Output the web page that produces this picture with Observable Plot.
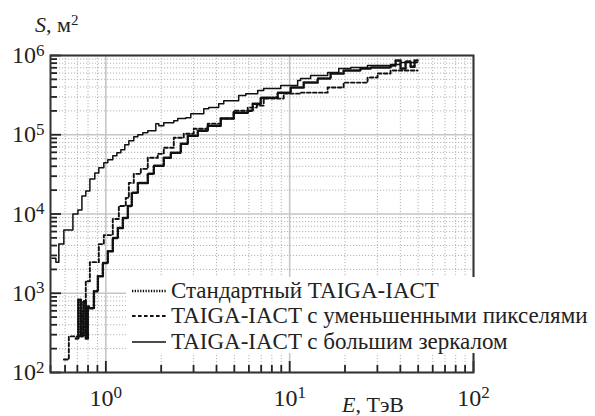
<!DOCTYPE html>
<html><head><meta charset="utf-8">
<script src="https://cdn.jsdelivr.net/npm/d3@7"></script>
<script src="https://cdn.jsdelivr.net/npm/@observablehq/plot@0.6"></script>
<style>
body{margin:0;background:#fff;}
#wrap{width:595px;height:416px;}
#wrap svg text, #wrap svg tspan{font-family:"Liberation Serif", serif !important;}
</style></head><body><div id="wrap"></div>
<script>
// ---- data (E in TeV, S in m^2; step-after histograms) ----
const seriesNames = ["Стандартный TAIGA-IACT", "TAIGA-IACT с уменьшенными пикселями", "TAIGA-IACT с большим зеркалом"];

const standardE = [0.687,0.708,0.731,0.755,0.778,0.798,0.808,0.861,0.905,0.963,1.025,1.091,1.162,1.237,1.317,1.384,1.493,1.691,1.823,2.066,2.256,2.556,2.791,3.162,3.584,4.217,4.963,5.913,6.294,6.958,8.607,10.13,11.92,14.20,16.70,19.66,24.32,27.55,35.39,37.7,40.1,42.7,45.5,47.8,49.63];
const standardS = [269,830,286,793,269,680,646,1060,1640,2400,3400,4970,6650,8890,12600,18500,24700,32100,40600,51200,59200,76900,97100,112000,130000,160000,190000,201000,247000,294000,340000,394000,455000,512000,592000,646000,684000,704000,747000,865000,684000,840000,720000,865000,865000];

const reducedE = [0.591,0.629,0.741,0.778,0.819,0.916,0.975,1.091,1.177,1.284,1.334,1.419,1.550,1.691,1.917,2.066,2.342,2.654,3.008,3.584,4.217,4.963,5.913,6.618,7.223,9.278,11.47,16.09,19.66,26.54,30.08,35.39,49.63];
const reducedS = [146,286,592,1420,2470,4170,5420,8650,12600,15970,24700,32100,37100,51200,57400,68400,91600,103000,119000,138000,160000,201000,220000,233000,286000,330000,340000,394000,455000,527000,592000,646000,646000];

const mirrorE = [0.509,0.535,0.555,0.591,0.662,0.705,0.741,0.778,0.819,0.871,0.916,0.975,1.025,1.091,1.148,1.207,1.268,1.334,1.419,1.493,1.589,1.691,1.870,1.941,2.066,2.341,2.461,2.723,2.898,3.41,3.63,4.11,4.38,5.28,5.77,6.70,7.22,8.94,11.05,11.47,13.0,16.1,18.5,21.5,26.5,35.4,40.1,49.6];
const mirrorS = [2770,2470,4170,6270,10000,11240,16900,19550,27700,33000,38200,44200,48300,54200,59200,64600,74700,83900,94400,100000,106000,112000,138000,130000,142000,150000,160000,164000,184000,213000,220000,247000,269000,312000,330000,361000,382000,417000,483000,512000,558000,609000,684000,704000,747000,769000,815000,815000];

const xMajorTicks = [1, 10, 100];
const xMinorTicks = [0.5,0.6,0.7,0.8,0.9,2,3,4,5,6,7,8,9,20,30,40,50,60,70,80,90];
const yMajorTicks = [1e2, 1e3, 1e4, 1e5, 1e6];
const yMinorTicks = [2e2,3e2,4e2,5e2,6e2,7e2,8e2,9e2,2e3,3e3,4e3,5e3,6e3,7e3,8e3,9e3,2e4,3e4,4e4,5e4,6e4,7e4,8e4,9e4,2e5,3e5,4e5,5e5,6e5,7e5,8e5,9e5];

const xLabel = ["E", ", ТэВ"];
const yLabel = ["S", ", м", "2"];

// ---- build tables ----
const toRows = (E, S) => E.map((e, i) => ({E: e, S: S[i]}));
const standard = toRows(standardE, standardS);
const reduced = toRows(reducedE, reducedS);
const mirror = toRows(mirrorE, mirrorS);

const W = 595, H = 416, mL = 50, mR = 122, mT = 55, mB = 44;
const innerW = W - mL - mR, innerH = H - mT - mB;
const FONT = "Liberation Serif";

const styles = {
  standard: {stroke: "#111", strokeWidth: 2.5, strokeDasharray: "1.3,1.4"},
  reduced: {stroke: "#111", strokeWidth: 1.9, strokeDasharray: "3.6,2.4"},
  mirror: {stroke: "#111", strokeWidth: 1.5}
};

const chart = Plot.plot({
  width: W, height: H,
  marginLeft: mL, marginRight: mR, marginTop: mT, marginBottom: mB,
  x: {type: "log", domain: [0.5, 100]},
  y: {type: "log", domain: [100, 1e6]},
  style: {fontFamily: FONT, fontSize: "24px", color: "#222", background: "#fff", overflow: "visible"},
  marks: [
    Plot.gridX(xMinorTicks, {stroke: "#b5b5b5", strokeOpacity: 1, strokeWidth: 1, strokeDasharray: "1.2,1.8"}),
    Plot.gridY(yMinorTicks, {stroke: "#b5b5b5", strokeOpacity: 1, strokeWidth: 1, strokeDasharray: "1.2,1.8"}),
    Plot.gridX(xMajorTicks, {stroke: "#c6c6c6", strokeOpacity: 1, strokeWidth: 1.6}),
    Plot.gridY(yMajorTicks, {stroke: "#c6c6c6", strokeOpacity: 1, strokeWidth: 1.6}),
    Plot.line(standard, {x: "E", y: "S", curve: "step-after", ...styles.standard}),
    Plot.line(reduced, {x: "E", y: "S", curve: "step-after", ...styles.reduced}),
    Plot.line(mirror, {x: "E", y: "S", curve: "step-after", ...styles.mirror}),
    Plot.tickX(xMinorTicks, {x: d => d, insetTop: innerH - 7, stroke: "#222", strokeWidth: 1.8}),
    Plot.tickX(xMajorTicks, {x: d => d, insetTop: innerH - 11, stroke: "#222", strokeWidth: 1.8}),
    Plot.tickY(yMinorTicks, {y: d => d, insetRight: innerW - 7, stroke: "#222", strokeWidth: 1.8}),
    Plot.tickY(yMajorTicks, {y: d => d, insetRight: innerW - 11, stroke: "#222", strokeWidth: 1.8}),
    Plot.frame({stroke: "#333", strokeWidth: 2}),
    Plot.axisY(yMajorTicks, {tickSize: 0, tickPadding: 6, label: null, tickFormat: d => "10^" + Math.round(Math.log10(d)), fontSize: 24}),
    Plot.axisX(xMajorTicks, {tickSize: 0, tickPadding: 16, label: null, tickFormat: d => "10^" + Math.round(Math.log10(d)), fontSize: 24})
  ]
});

document.getElementById("wrap").appendChild(chart);
const svg = d3.select(chart);

// superscript exponents in tick labels
svg.selectAll("text").each(function() {
  const t = d3.select(this);
  const target = t.select("tspan").empty() ? t : t.select("tspan");
  const s = target.text();
  if (/^10\^/.test(s)) {
    const exp = s.split("^")[1];
    target.text("10");
    target.append("tspan").attr("dy", "-0.45em").style("font-size", "17px").text(exp);
  }
});

function addText(x, y, size) {
  return svg.append("text").attr("x", x).attr("y", y)
    .style("text-anchor", "start")
    .style("font-size", size + "px").style("fill", "#222");
}

// axis titles
const yt = addText(35, 32, 22);
yt.append("tspan").style("font-style", "italic").text(yLabel[0]);
yt.append("tspan").text(yLabel[1]);
yt.append("tspan").attr("dy", "-0.45em").style("font-size", "15px").text(yLabel[2]);

const xt = addText(342, 412, 22);
xt.append("tspan").style("font-style", "italic").text(xLabel[0]);
xt.append("tspan").text(xLabel[1]);

// legend (white box over the lower-right part of the plot)
const lg = svg.append("g");
lg.append("rect").attr("x", 126).attr("y", 277).attr("width", 469).attr("height", 76).attr("fill", "#fff");
const legendStyles = [styles.standard, styles.reduced, styles.mirror];
const lineYs = [291, 316, 342];
seriesNames.forEach((name, i) => {
  const st = legendStyles[i];
  lg.append("line").attr("x1", 132).attr("x2", 166).attr("y1", lineYs[i]).attr("y2", lineYs[i])
    .attr("stroke", st.stroke).attr("stroke-width", st.strokeWidth)
    .attr("stroke-dasharray", st.strokeDasharray || null);
  addText(171, lineYs[i] + 7, 23).text(name);
});
</script>
</body></html>
